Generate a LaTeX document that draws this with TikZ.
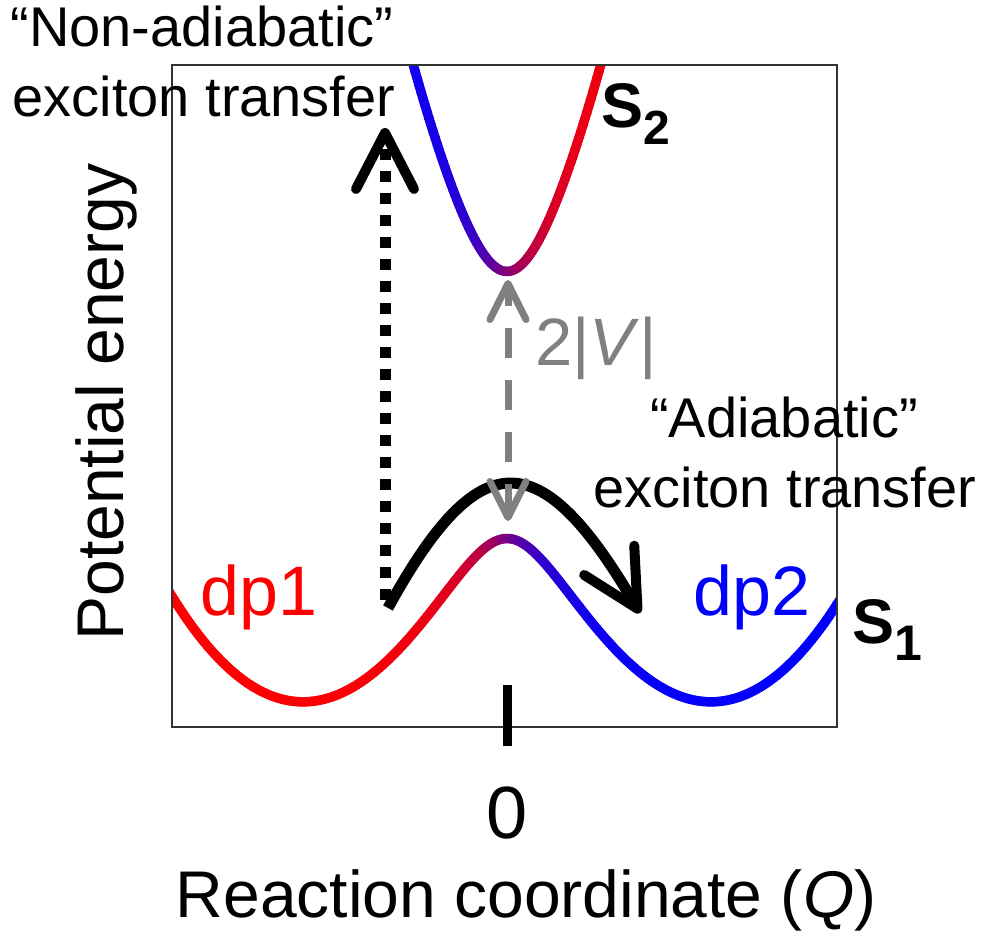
\documentclass[tikz,border=0pt]{standalone}
\usepackage{fontspec}
\setmainfont{Liberation Sans}
\usetikzlibrary{arrows.meta}
\begin{document}
\begin{tikzpicture}[x=1pt,y=-1pt,
  lbl/.style={inner sep=0pt,outer sep=0pt},
  ann/.style={lbl,font=\fontsize{56}{60}\selectfont},
  big/.style={lbl,font=\fontsize{66}{70}\selectfont},
  curve/.style={line width=9.5pt,line cap=round},
  barbbig/.tip={Straight Barb[length=56pt,width=58pt,line width=10pt,round]},
  barbgray/.tip={Straight Barb[length=36pt,width=36pt,line width=7pt,round]}]
\useasboundingbox (0,0) rectangle (990,936);
\def\kap{0.6372}\def\al{2.10}\def\Vc{1.335}
% potential curves
\begin{scope}
\clip (172,65) rectangle (837,727);
\foreach \i in {0,...,271}{
  \pgfmathsetmacro\qa{-3.40+\i*0.025}
  \pgfmathsetmacro\qb{\qa+0.025}
  \pgfmathsetmacro\qm{\qa+0.0125}
  \pgfmathsetmacro\ua{2*\kap*\al*\qa}
  \pgfmathsetmacro\ub{2*\kap*\al*\qb}
  \pgfmathsetmacro\um{2*\kap*\al*\qm}
  \pgfmathsetmacro\xa{507+100*\qa}
  \pgfmathsetmacro\xb{507+100*\qb}
  \pgfmathsetmacro\ya{686-100*(\kap*(\qa*\qa+\al*\al)-veclen(\ua,\Vc))}
  \pgfmathsetmacro\yb{686-100*(\kap*(\qb*\qb+\al*\al)-veclen(\ub,\Vc))}
  \pgfmathsetmacro\rf{50*(1-\um/veclen(\um,\Vc))}
  \draw[curve,color=red!\rf!blue] (\xa,\ya) -- (\xb,\yb);
}
\foreach \i in {0,...,119}{
  \pgfmathsetmacro\qa{-1.20+\i*0.02}
  \pgfmathsetmacro\qb{\qa+0.02}
  \pgfmathsetmacro\qm{\qa+0.01}
  \pgfmathsetmacro\ua{2*\kap*\al*\qa}
  \pgfmathsetmacro\ub{2*\kap*\al*\qb}
  \pgfmathsetmacro\um{2*\kap*\al*\qm}
  \pgfmathsetmacro\xa{507+100*\qa}
  \pgfmathsetmacro\xb{507+100*\qb}
  \pgfmathsetmacro\ya{686-100*(\kap*(\qa*\qa+\al*\al)+veclen(\ua,\Vc))}
  \pgfmathsetmacro\yb{686-100*(\kap*(\qb*\qb+\al*\al)+veclen(\ub,\Vc))}
  \pgfmathsetmacro\rf{50*(1+\um/veclen(\um,\Vc))}
  \draw[curve,color=red!\rf!blue] (\xa,\ya) -- (\xb,\yb);
}
\end{scope}
% frame
\draw[line width=2pt,black!80] (172,65) rectangle (837,727);
% tick
\coordinate (tk1) at (507,685);
\coordinate (tk2) at (507,746);
\draw[line width=9pt] (tk1) -- (tk2);
% non-adiabatic dotted arrow
\coordinate (na1) at (385,600);
\coordinate (na2) at (385,128);
\draw[line width=11pt,dash pattern=on 11pt off 11pt,-barbbig] (na1) -- (na2);
% adiabatic curved arrow
\coordinate (ad1) at (388,608);
\coordinate (ad2) at (640,613);
\draw[line width=11pt,-barbbig] (ad1) .. controls (479,442) and (540,442) .. (ad2);
% gap arrow
\coordinate (g1) at (508,280);
\coordinate (g2) at (508,521);
\draw[gray,line width=7pt,dash pattern=on 30pt off 22pt,barbgray-barbgray] (g2) -- (g1);
% labels
\node[ann,anchor=base] (nonad1) at (202,47) {“Non-adiabatic”};
\node[ann,anchor=base] (nonad2) at (204,117) {exciton transfer};
\node[ann,anchor=base] (adia1) at (784,437) {“Adiabatic”};
\node[ann,anchor=base] (adia2) at (785,507) {exciton transfer};
\node[lbl,anchor=base,font=\fontsize{70}{72}\selectfont,text=red] (dp1) at (259,615) {dp1};
\node[lbl,anchor=base,font=\fontsize{70}{72}\selectfont,text=blue] (dp2) at (752,615) {dp2};
\node[lbl,anchor=base west,font=\fontsize{63}{66}\selectfont\bfseries] (s1) at (852,643) {S\raisebox{-17pt}{\fontsize{50}{52}\selectfont 1}};
\node[lbl,anchor=base west,font=\fontsize{63}{66}\selectfont\bfseries] (s2) at (601,128) {S\raisebox{-17pt}{\fontsize{48}{50}\selectfont 2}};
\node[lbl,anchor=base west,font=\fontsize{67}{70}\selectfont,text=gray] (gap) at (535,365) {2|\textit{V}|};
\node[big,anchor=base,rotate=90] (ylab) at (123,402) {Potential energy};
\node[lbl,anchor=base,font=\fontsize{74}{76}\selectfont] (zero) at (507,838) {0};
\node[big,anchor=base] (xlab) at (526,917) {Reaction coordinate (\textit{Q})};
\end{tikzpicture}
\end{document}
